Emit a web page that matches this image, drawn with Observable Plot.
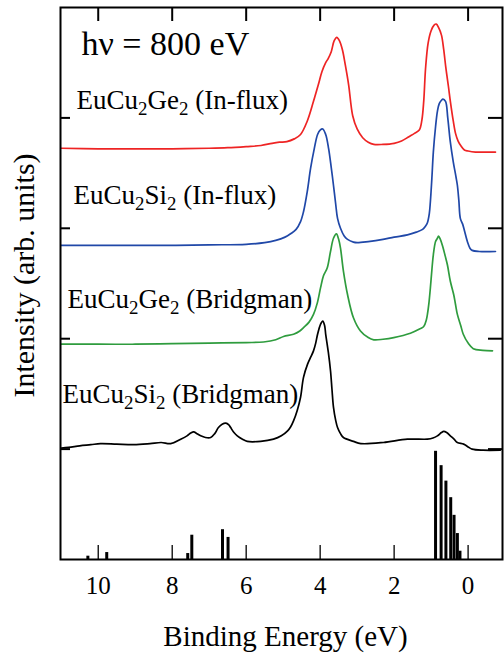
<!DOCTYPE html>
<html><head><meta charset="utf-8">
<script src="https://cdn.jsdelivr.net/npm/d3@7"></script>
<script src="https://cdn.jsdelivr.net/npm/@observablehq/plot@0.6"></script>
<style>body{margin:0;background:#fff}svg{display:block}</style>
</head><body><div id="chart"></div>
<script>
// ---- data (binding energy in eV, intensity in arb. units incl. vertical offset) ----
const xTicks = [10, 8, 6, 4, 2, 0];
const yTicks = [1, 2, 3, 4];
const seriesNames = ["EuCu₂Ge₂ (In-flux)", "EuCu₂Si₂ (In-flux)", "EuCu₂Ge₂ (Bridgman)", "EuCu₂Si₂ (Bridgman)"];
const seriesColors = ["#ee2424", "#2048a8", "#2f9c3e", "#000000"];

const geInflux = [[11.0,3.725],[10,3.72],[9,3.72],[8,3.72],[7,3.725],[6.5,3.73],[6,3.74],[5.6,3.75],[5.3,3.77],[5.1,3.78],[4.9,3.785],[4.7,3.81],[4.53,3.85],[4.35,3.97],[4.18,4.15],[4.05,4.3],[3.95,4.42],[3.85,4.5],[3.78,4.54],[3.7,4.6],[3.62,4.7],[3.55,4.73],[3.48,4.7],[3.4,4.62],[3.32,4.48],[3.23,4.3],[3.12,4.02],[3.0,3.9],[2.85,3.82],[2.7,3.78],[2.55,3.76],[2.3,3.76],[2.0,3.77],[1.8,3.79],[1.6,3.83],[1.45,3.86],[1.32,3.89],[1.25,3.98],[1.2,4.15],[1.15,4.45],[1.08,4.68],[1.0,4.79],[0.92,4.84],[0.86,4.85],[0.8,4.82],[0.72,4.75],[0.66,4.62],[0.6,4.45],[0.53,4.28],[0.48,4.15],[0.4,3.97],[0.34,3.86],[0.27,3.79],[0.2,3.75],[0.1,3.71],[0.0,3.7],[-0.2,3.69],[-0.5,3.69],[-0.74,3.69]];

const siInflux = [[11.0,2.845],[10,2.845],[9,2.845],[8,2.845],[7,2.85],[6,2.855],[5.5,2.87],[5.2,2.89],[4.95,2.92],[4.8,2.95],[4.65,2.99],[4.53,3.06],[4.45,3.15],[4.35,3.33],[4.26,3.54],[4.16,3.72],[4.07,3.85],[4.0,3.89],[3.93,3.9],[3.85,3.85],[3.77,3.72],[3.7,3.55],[3.64,3.39],[3.58,3.22],[3.53,3.09],[3.45,3.0],[3.35,2.93],[3.26,2.9],[3.1,2.875],[3.0,2.87],[2.7,2.88],[2.3,2.9],[2.0,2.92],[1.64,2.94],[1.4,2.965],[1.23,2.99],[1.15,3.02],[1.1,3.05],[1.05,3.13],[1.02,3.24],[0.98,3.45],[0.94,3.69],[0.88,3.92],[0.83,4.06],[0.78,4.13],[0.72,4.16],[0.68,4.17],[0.61,4.15],[0.55,4.0],[0.48,3.78],[0.4,3.6],[0.33,3.47],[0.29,3.39],[0.25,3.25],[0.21,3.09],[0.15,3.04],[0.1,2.98],[0.02,2.88],[-0.05,2.82],[-0.11,2.8],[-0.3,2.79],[-0.74,2.79]];

const geBridgman = [[11.0,1.95],[10,1.95],[9,1.95],[8,1.955],[7,1.96],[6,1.965],[5.53,1.97],[5.2,1.99],[4.99,2.02],[4.72,2.04],[4.55,2.07],[4.45,2.1],[4.3,2.15],[4.18,2.22],[4.08,2.32],[3.99,2.46],[3.91,2.57],[3.81,2.64],[3.72,2.79],[3.64,2.91],[3.56,2.95],[3.5,2.9],[3.45,2.82],[3.37,2.61],[3.26,2.4],[3.1,2.19],[2.91,2.07],[2.7,2.01],[2.55,1.99],[2.3,1.995],[2.01,2.01],[1.56,2.05],[1.3,2.09],[1.2,2.11],[1.13,2.17],[1.1,2.22],[1.06,2.32],[1.02,2.46],[0.98,2.62],[0.94,2.76],[0.88,2.88],[0.83,2.91],[0.8,2.93],[0.75,2.9],[0.69,2.84],[0.62,2.75],[0.56,2.67],[0.48,2.52],[0.39,2.4],[0.34,2.31],[0.29,2.22],[0.2,2.12],[0.13,2.04],[0.0,1.96],[-0.14,1.91],[-0.4,1.895],[-0.66,1.89]];

const siBridgman = [[11.0,1.01],[10.8,1.015],[10.5,1.03],[10.2,1.04],[9.94,1.05],[9.5,1.045],[9.04,1.04],[8.6,1.05],[8.3,1.06],[8.04,1.05],[7.77,1.09],[7.6,1.12],[7.5,1.145],[7.42,1.156],[7.33,1.14],[7.23,1.12],[7.1,1.105],[6.96,1.105],[6.85,1.14],[6.75,1.195],[6.65,1.225],[6.55,1.235],[6.47,1.22],[6.42,1.195],[6.33,1.15],[6.24,1.12],[6.1,1.09],[5.97,1.07],[5.61,1.07],[5.26,1.09],[5.05,1.12],[4.88,1.165],[4.8,1.2],[4.72,1.255],[4.62,1.35],[4.53,1.47],[4.45,1.65],[4.34,1.77],[4.26,1.83],[4.18,1.89],[4.12,1.96],[4.07,2.04],[3.99,2.13],[3.93,2.16],[3.88,2.12],[3.85,2.04],[3.78,1.88],[3.72,1.71],[3.68,1.54],[3.64,1.38],[3.58,1.26],[3.53,1.195],[3.45,1.14],[3.37,1.105],[3.1,1.07],[2.9,1.05],[2.29,1.06],[1.64,1.09],[1.1,1.09],[0.95,1.1],[0.83,1.12],[0.72,1.15],[0.66,1.16],[0.58,1.15],[0.48,1.12],[0.38,1.09],[0.29,1.06],[0.12,1.045],[0.0,1.02],[-0.11,1.0],[-0.4,0.99],[-0.87,0.99]];

// calculated multiplet lines (energy, relative intensity)
const lineEnergy = [10.28, 9.77, 7.58, 7.47, 6.64, 6.49, 0.88, 0.73, 0.60, 0.47, 0.38, 0.29, 0.22];
const lineHeight = [0.03, 0.063, 0.054, 0.22, 0.27, 0.20, 0.98, 0.85, 0.71, 0.56, 0.40, 0.235, 0.075];

// ---- build tables ----
const spectra = [geInflux, siInflux, geBridgman, siBridgman];
const rows = spectra.flatMap((pts, k) => pts.map(([e, v]) => ({e, v, name: seriesNames[k]})));
const bars = lineEnergy.map((e, i) => ({e, h: lineHeight[i]}));

const W = 504, H = 658, mL = 60, mR = 2, mT = 7, mB = 99;
const innerW = W - mL - mR, innerH = H - mT - mB;
const serif = "'Liberation Serif', 'Times New Roman', Times, serif";

function label(text, left, baseline, size) {
  return Plot.text([text], {
    frameAnchor: "top-left", textAnchor: "start", lineAnchor: "bottom",
    dx: left - mL, dy: baseline - mT, fontSize: size, fontFamily: serif, fill: "black"
  });
}

const chart = Plot.plot({
  width: W, height: H,
  marginLeft: mL, marginRight: mR, marginTop: mT, marginBottom: mB,
  style: {fontFamily: serif, background: "#fff", color: "#000"},
  x: {domain: [11.02, -0.93]},
  y: {domain: [0, 5], axis: null},
  color: {domain: seriesNames, range: seriesColors},
  marks: [
    Plot.ruleX(bars, {x: "e", y1: 0, y2: "h", stroke: "black", strokeWidth: 3}),
    Plot.line(rows, {x: "e", y: "v", z: "name", stroke: "name", strokeWidth: 1.7, curve: "catmull-rom"}),
    // inward ticks
    Plot.ruleX(xTicks, {x: d => d, insetTop: innerH - 14, stroke: "black", strokeWidth: 1.3}),
    Plot.ruleX(xTicks, {x: d => d, insetBottom: innerH - 14, stroke: "black", strokeWidth: 2}),
    Plot.ruleY(yTicks, {y: d => d, insetRight: innerW - 10, stroke: "black", strokeWidth: 2}),
    Plot.ruleY(yTicks, {y: d => d, insetLeft: innerW - 14, stroke: "black", strokeWidth: 2}),
    Plot.axisX({ticks: xTicks, tickSize: 0, tickPadding: 17, fontSize: 25, fontFamily: serif, fill: "black", label: null}),
    Plot.frame({stroke: "black", strokeWidth: 2}),
    Plot.text(["Binding Energy (eV)"], {frameAnchor: "bottom", textAnchor: "middle", lineAnchor: "bottom", dx: 4, dy: 86, fontSize: 29, fontFamily: serif, fill: "black"}),
    Plot.text(["Intensity (arb. units)"], {frameAnchor: "left", textAnchor: "middle", lineAnchor: "middle", rotate: -90, dx: -36, dy: -8, fontSize: 30, fontFamily: serif, fill: "black"}),
    label("hν = 800 eV", 81, 54, 34),
    label(seriesNames[0], 76, 108, 27),
    label(seriesNames[1], 73, 203, 27),
    label(seriesNames[2], 67, 307, 27),
    label(seriesNames[3], 62, 402, 27)
  ]
});

// render ₂ as a real lowered, smaller "2"
d3.select(chart).selectAll("text").each(function () {
  const t = this.textContent;
  if (!t.includes("₂")) return;
  const fs = parseFloat(this.getAttribute("font-size") || (this.parentNode && this.parentNode.getAttribute && this.parentNode.getAttribute("font-size"))) || 27;
  const shift = Math.round(fs * 0.22);
  const parts = t.split(/(₂)/).filter(s => s.length);
  this.textContent = "";
  let lowered = false;
  for (const p of parts) {
    const ts = document.createElementNS("http://www.w3.org/2000/svg", "tspan");
    if (p === "₂") {
      ts.textContent = "2";
      ts.setAttribute("font-size", (fs * 0.7).toFixed(1));
      if (!lowered) { ts.setAttribute("dy", shift); lowered = true; }
    } else {
      ts.textContent = p;
      if (lowered) { ts.setAttribute("dy", -shift); lowered = false; }
    }
    this.appendChild(ts);
  }
});

document.getElementById("chart").appendChild(chart);
</script>
</body></html>
